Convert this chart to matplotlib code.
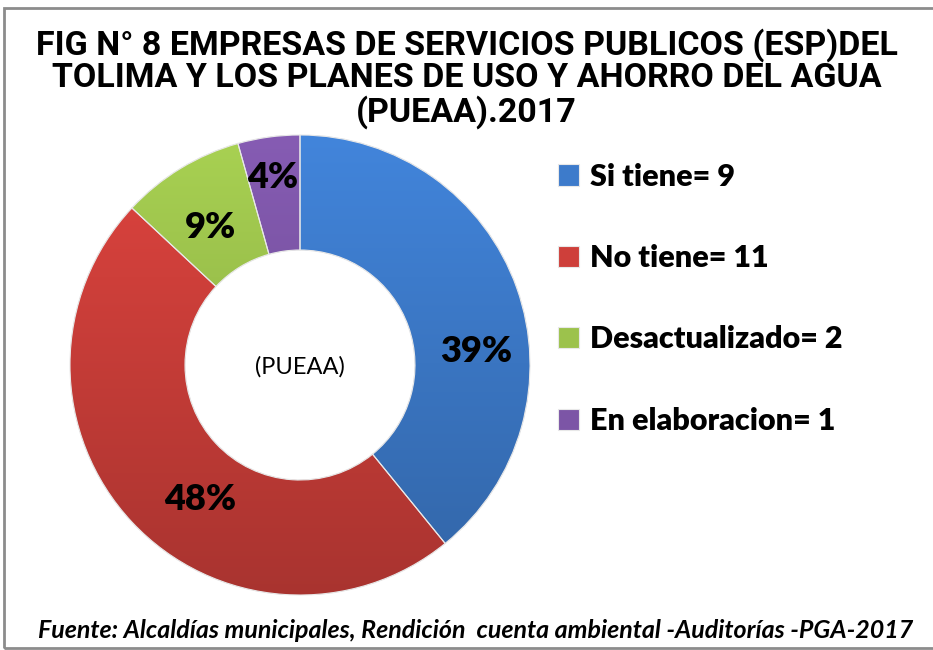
import matplotlib
matplotlib.use("Agg")
import matplotlib.pyplot as plt
import numpy as np
from matplotlib.colors import to_rgb
from matplotlib.patches import Rectangle, PathPatch

# Datos
categorias = ['Si tiene= 9', 'No tiene= 11', 'Desactualizado= 2', 'En elaboracion= 1']
valores = [9, 11, 2, 1]
porcentajes = ['39%', '48%', '9%', '4%']
colores = ['#3D7BCB', '#CE3F3A', '#9CC24C', '#7C55A6']

lineas_titulo = ['FIG N° 8 EMPRESAS DE SERVICIOS PUBLICOS (ESP)DEL',
                 'TOLIMA Y LOS PLANES DE USO Y AHORRO DEL AGUA',
                 '(PUEAA).2017']
fuente = 'Fuente: Alcaldías municipales, Rendición  cuenta ambiental -Auditorías -PGA-2017'

fig = plt.figure(figsize=(9.33, 6.5), dpi=100)
W, H = 933, 650

# marco gris
fig.patches.append(Rectangle((4 / W, 2 / H), 1.0, 1 - 10 / H, transform=fig.transFigure,
                             fill=False, edgecolor='#8C8C8C', linewidth=2))

# ejes del anillo: centro (300, 365) px, radio 230 px
cx, cy, R = 300, 365, 230
ax = fig.add_axes([(cx - R) / W, (H - cy - R) / H, 2 * R / W, 2 * R / H])
wedges, _ = ax.pie(valores, colors=colores, startangle=90, counterclock=False,
                   radius=1, wedgeprops=dict(width=0.5, edgecolor='#E8E8E8', linewidth=0.8))

# degradado vertical suave dentro de cada sector (claro arriba, oscuro abajo)
t = np.linspace(1.08, 0.82, 200)[:, None]
for w, c in zip(wedges, colores):
    rgb = np.clip(np.array(to_rgb(c))[None, None, :] * t[:, :, None], 0, 1)
    img = np.repeat(rgb, 2, axis=1)
    im = ax.imshow(img, extent=[-1, 1, -1, 1], origin='upper', aspect='auto', zorder=2)
    im.set_clip_path(w)
    ax.add_patch(PathPatch(w.get_path(), transform=w.get_transform(), fill=False,
                           edgecolor='#E8E8E8', linewidth=0.8, zorder=3))

ax.set_xlim(-1, 1)
ax.set_ylim(-1, 1)
ax.set_aspect('equal')
ax.axis('off')

# etiquetas de porcentaje (posiciones en px de la imagen)
pos_etiquetas = [(476, 352), (200, 500), (210, 228), (273, 178)]
for (px, py), txt in zip(pos_etiquetas, porcentajes):
    fig.text(px / W, 1 - py / H, txt, ha='center', va='center', fontsize=26,
             fontweight='heavy', family='Lato', zorder=5)

ax.text(0, -0.01, '(PUEAA)', ha='center', va='center', fontsize=17, family='Lato')

# titulo, una linea cada vez
for y, linea in zip([45, 78, 112], lineas_titulo):
    fig.text(0.5, 1 - y / H, linea, ha='center', va='center', fontsize=24.5,
             fontweight='bold', family='Roboto')

fig.legend(wedges, categorias, loc='upper left', bbox_to_anchor=(530 / W, 1 - 135 / H),
           frameon=False, prop=dict(family='Lato', weight='heavy', size=22),
           labelspacing=1.75, handlelength=0.7, handleheight=0.7, handletextpad=0.35)

fig.text(476 / W, 1 - 630 / H, fuente, ha='center', va='center', fontsize=18,
         fontweight='bold', style='italic', family='Lato')

fig.savefig('out.png', dpi=100)
